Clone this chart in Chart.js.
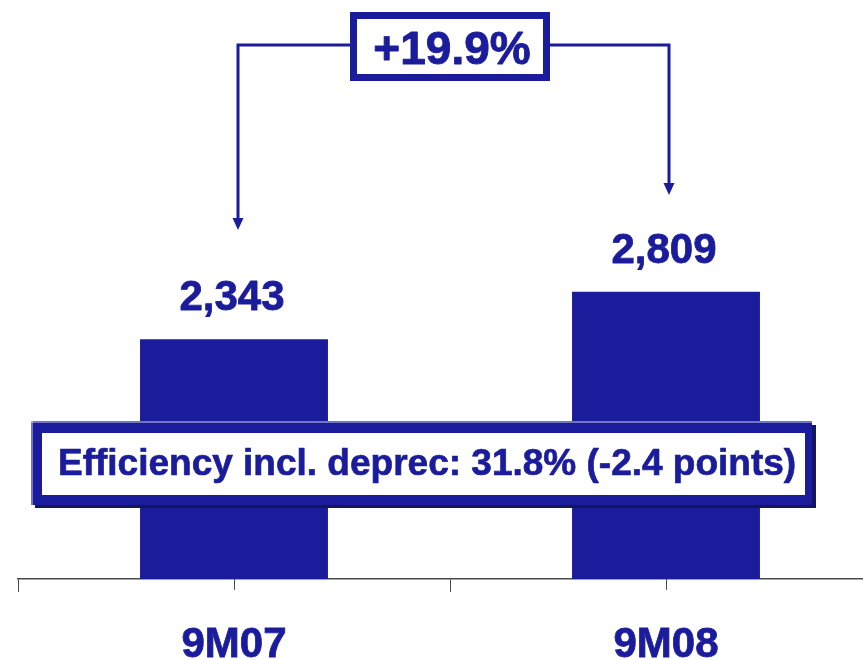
<!DOCTYPE html>
<html>
<head>
<meta charset="utf-8">
<script src="https://cdn.jsdelivr.net/npm/chart.js@4.4.0/dist/chart.umd.min.js"></script>
<style>
  html, body { margin: 0; padding: 0; background: #fff; overflow: hidden; width: 863px; height: 660px; }
  canvas { display: block; }
</style>
</head>
<body>
<canvas id="chart" width="900" height="660"></canvas>
<script>
// Data
const periods = ['9M07', '9M08'];
const revenue = [2343, 2809];
const efficiencyNote = 'Efficiency incl. deprec: 31.8% (-2.4 points)';
const yMax = 5660;

const NAVY = '#1a1c9b';
const AXIS_GREY = '#4a4a4a';
const FONT = '"Liberation Sans", Arial, Helvetica, sans-serif';

function growthLabel(a, b) {
  const pct = (b / a - 1) * 100;
  return (pct >= 0 ? '+' : '') + pct.toFixed(1) + '%';
}

// filled text with a thin outline for a heavier bold look
function heavyText(ctx, text, x, y) {
  ctx.fillText(text, x, y);
  ctx.strokeText(text, x, y);
}

// Value labels, growth bracket, efficiency banner and centre tick marks
const decorations = {
  id: 'decorations',
  afterDatasetsDraw(chart) {
    const ctx = chart.ctx;
    const bars = chart.getDatasetMeta(0).data;
    const xs = chart.scales.x;

    ctx.save();
    ctx.lineJoin = 'round';
    // value labels above the bars
    ctx.fillStyle = NAVY;
    ctx.strokeStyle = NAVY;
    ctx.lineWidth = 0.8;
    ctx.font = 'bold 42px ' + FONT;
    ctx.textAlign = 'center';
    ctx.textBaseline = 'alphabetic';
    bars.forEach((bar, i) => {
      heavyText(ctx, revenue[i].toLocaleString('en-US'), bar.x - 2, bar.y - 29);
    });

    // growth bracket with arrows
    const mid = (xs.left + xs.right) / 2;
    const boxL = mid - 100, boxR = mid + 100;
    const lineY = 45;
    const ax0 = bars[0].x + 4, ax1 = bars[1].x + 3;
    const tip0 = 230, tip1 = 195;
    ctx.lineJoin = 'miter';
    ctx.strokeStyle = NAVY;
    ctx.lineWidth = 3;
    ctx.beginPath();
    ctx.moveTo(boxL, lineY); ctx.lineTo(ax0, lineY); ctx.lineTo(ax0, tip0 - 10);
    ctx.moveTo(boxR, lineY); ctx.lineTo(ax1, lineY); ctx.lineTo(ax1, tip1 - 10);
    ctx.stroke();
    ctx.fillStyle = NAVY;
    [[ax0, tip0], [ax1, tip1]].forEach(([x, y]) => {
      ctx.beginPath();
      ctx.moveTo(x - 5.5, y - 12);
      ctx.lineTo(x + 5.5, y - 12);
      ctx.lineTo(x, y);
      ctx.closePath();
      ctx.fill();
    });
    // growth box
    ctx.fillStyle = NAVY;
    ctx.fillRect(boxL, 12, boxR - boxL, 69);
    ctx.fillStyle = '#ffffff';
    ctx.fillRect(boxL + 7, 19, boxR - boxL - 14, 55);
    ctx.fillStyle = NAVY;
    ctx.lineWidth = 0.9;
    ctx.lineJoin = 'round';
    ctx.font = 'bold 46px ' + FONT;
    ctx.textAlign = 'center';
    heavyText(ctx, growthLabel(revenue[0], revenue[1]), mid + 2, 64);

    // efficiency banner (shadow, frame, highlight, inner panel)
    ctx.fillStyle = '#13155f';
    ctx.fillRect(35, 425, 781, 83);
    ctx.fillStyle = NAVY;
    ctx.fillRect(31, 421, 781, 84);
    ctx.fillStyle = 'rgba(255,255,255,0.4)';
    ctx.fillRect(31, 421, 781, 2);
    ctx.fillRect(31, 421, 2, 84);
    ctx.fillStyle = '#ffffff';
    ctx.fillRect(42, 433, 763, 62);
    ctx.fillStyle = NAVY;
    ctx.lineWidth = 0.7;
    ctx.font = 'bold 37px ' + FONT;
    ctx.textAlign = 'left';
    heavyText(ctx, efficiencyNote, 58, 475);
    ctx.restore();
  },
  afterDraw(chart) {
    // short tick marks at the category centres
    const xs = chart.scales.x;
    const ctx = chart.ctx;
    ctx.save();
    ctx.strokeStyle = AXIS_GREY;
    ctx.lineWidth = 1;
    xs.ticks.forEach((t, i) => {
      const px = Math.round(xs.getPixelForTick(i)) + 0.5;
      ctx.beginPath();
      ctx.moveTo(px, xs.top);
      ctx.lineTo(px, xs.top + 11);
      ctx.stroke();
    });
    ctx.restore();
  }
};

new Chart(document.getElementById('chart'), {
  type: 'bar',
  data: {
    labels: periods,
    datasets: [{
      data: revenue,
      backgroundColor: NAVY,
      borderWidth: 0,
      categoryPercentage: 1,
      barPercentage: 0.435
    }]
  },
  options: {
    responsive: false,
    animation: false,
    layout: { padding: { left: 18, right: 18, top: 0, bottom: 0 } },
    plugins: { legend: { display: false }, tooltip: { enabled: false } },
    scales: {
      y: { display: false, min: 0, max: yMax },
      x: {
        afterFit(scale) { scale.height = 81; },
        grid: {
          offset: true,
          drawOnChartArea: false,
          drawTicks: true,
          tickLength: 13,
          color: AXIS_GREY,
          lineWidth: 1
        },
        border: { display: true, color: AXIS_GREY, width: 1.5 },
        ticks: {
          color: NAVY,
          padding: 28,
          textStrokeColor: NAVY,
          textStrokeWidth: 0.8,
          font: { family: FONT, size: 42, weight: 'bold' }
        }
      }
    }
  },
  plugins: [decorations]
});
</script>
</body>
</html>
